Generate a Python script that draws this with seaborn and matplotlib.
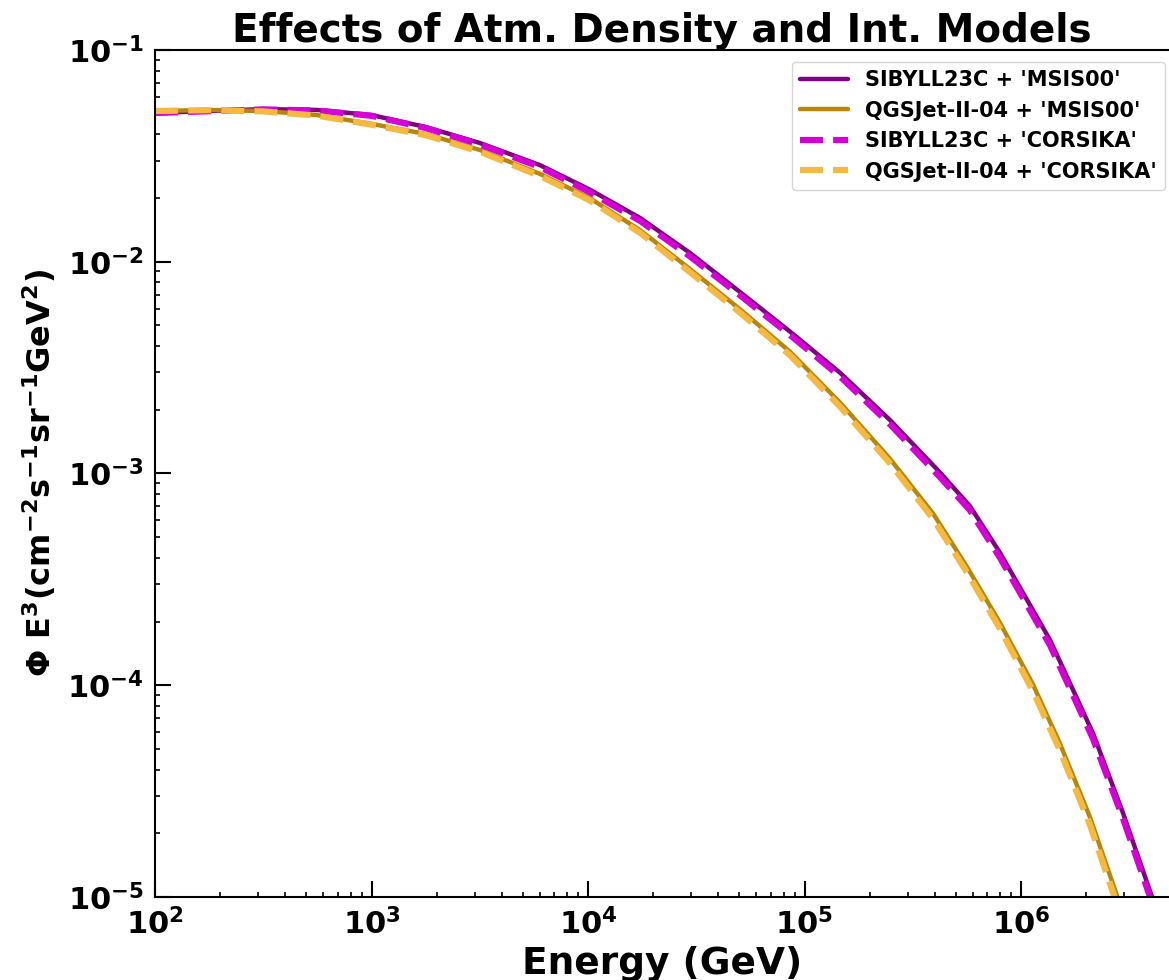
import numpy as np
import pandas as pd
import matplotlib
matplotlib.use("Agg")
import matplotlib.pyplot as plt
import seaborn as sns

sns.set_theme(style="white")
plt.rcParams['font.family'] = ['DejaVu Sans']
plt.rcParams['font.weight'] = 'bold'
plt.rcParams['mathtext.default'] = 'bf'
for key in ['text.color', 'axes.labelcolor', 'xtick.color', 'ytick.color', 'axes.edgecolor']:
    plt.rcParams[key] = 'black'

# energies (GeV) and E^3-weighted fluxes
energy_sib = [100, 178, 316, 562, 1000, 1780, 3160, 6000, 1.02e4, 1.74e4, 2.96e4,
              5.04e4, 8.57e4, 1.46e5, 2.48e5, 4.23e5, 5.8e5, 8.0e5, 1.36e6, 2.15e6,
              2.96e6, 4.03e6, 4.83e6]
flux_sib_msis = [0.0504, 0.0515, 0.0526, 0.0521, 0.0493, 0.0433, 0.0364, 0.0286,
                 0.0219, 0.0161, 0.0110, 7.19e-3, 4.68e-3, 2.99e-3, 1.79e-3,
                 1.01e-3, 7.03e-4, 4.22e-4, 1.64e-4, 5.94e-5, 2.49e-5, 1.0e-5, 5.3e-6]
flux_sib_cors = [0.0504, 0.0514, 0.0524, 0.0518, 0.0489, 0.0428, 0.0358, 0.0280,
                 0.0213, 0.0156, 0.0106, 6.94e-3, 4.51e-3, 2.87e-3, 1.71e-3,
                 9.6e-4, 6.72e-4, 4.0e-4, 1.55e-4, 5.6e-5, 2.35e-5, 9.4e-6, 5.0e-6]

energy_qgs = [100, 177, 316, 560, 1000, 1786, 3170, 6000, 1.02e4, 1.74e4, 2.96e4,
              5.04e4, 8.57e4, 1.46e5, 2.48e5, 3.93e5, 5.64e5, 8.0e5, 1.135e6,
              1.51e6, 2.08e6, 2.77e6, 3.37e6]
flux_qgs_msis = [0.0515, 0.0521, 0.0515, 0.0493, 0.0448, 0.0401, 0.0337, 0.0260,
                 0.01995, 0.0141, 9.23e-3, 5.96e-3, 3.76e-3, 2.16e-3, 1.175e-3,
                 6.46e-4, 3.61e-4, 1.97e-4, 1.01e-4, 5.33e-5, 2.39e-5, 1.02e-5, 5.6e-6]
flux_qgs_cors = [0.0515, 0.0520, 0.0513, 0.0490, 0.0444, 0.0396, 0.0331, 0.0254,
                 0.0195, 0.0137, 8.93e-3, 5.75e-3, 3.62e-3, 2.07e-3, 1.12e-3,
                 6.10e-4, 3.40e-4, 1.85e-4, 9.4e-5, 4.95e-5, 2.2e-5, 9.3e-6, 5.1e-6]

series = [
    ("SIBYLL23C + 'MSIS00'", energy_sib, flux_sib_msis, "#800080", "-", 3.2),
    ("QGSJet-II-04 + 'MSIS00'", energy_qgs, flux_qgs_msis, "#B8860B", "-", 3.2),
    ("SIBYLL23C + 'CORSIKA'", energy_sib, flux_sib_cors, "#D400D4", "--", 4.5),
    ("QGSJet-II-04 + 'CORSIKA'", energy_qgs, flux_qgs_cors, "#F5B942", "--", 4.5),
]

W, H = 1169, 980
fig = plt.figure(figsize=(W / 100, H / 100), dpi=100)
ax = fig.add_axes([155 / W, 1 - 897 / H, 1 - 155 / W, (897 - 50) / H])

for label, x, y, color, ls, lw in series:
    df = pd.DataFrame({"E": x, "F": y})
    sns.lineplot(data=df, x="E", y="F", ax=ax, color=color, linestyle=ls,
                 linewidth=lw, label=label, sort=False)

ax.set_xscale("log")
ax.set_yscale("log")
ax.set_xlim(1e2, 10 ** 6.6836)
ax.set_ylim(1e-5, 1e-1)

ax.set_title("Effects of Atm. Density and Int. Models", fontsize=28,
             fontweight="bold", pad=5)
ax.set_xlabel("Energy (GeV)", fontsize=27, fontweight="bold", labelpad=4)
ax.set_ylabel(r"$\mathbf{\Phi}$ E$^3$(cm$^{-2}$s$^{-1}$sr$^{-1}$GeV$^2$)",
              fontsize=23, fontweight="bold", labelpad=7)

ax.tick_params(which="major", direction="in", length=11.5, width=1.5,
               labelsize=22, pad=8, left=True, bottom=True, top=False, right=False)
ax.tick_params(which="minor", direction="in", length=3.6, width=1.2,
               left=True, bottom=True, top=False, right=False)
for lab in ax.get_xticklabels() + ax.get_yticklabels():
    lab.set_fontweight("bold")

for side in ["left", "bottom", "top"]:
    ax.spines[side].set_color("black")
    ax.spines[side].set_linewidth(1.5)
ax.spines["right"].set_visible(False)

leg = ax.legend(loc="upper right", bbox_to_anchor=(1 - 4 / 1014, 1 - 12 / 847),
                borderaxespad=0, fontsize=15, handlelength=2.3, frameon=True)
for t in leg.get_texts():
    t.set_fontweight("bold")

fig.savefig("out.png", dpi=100)
